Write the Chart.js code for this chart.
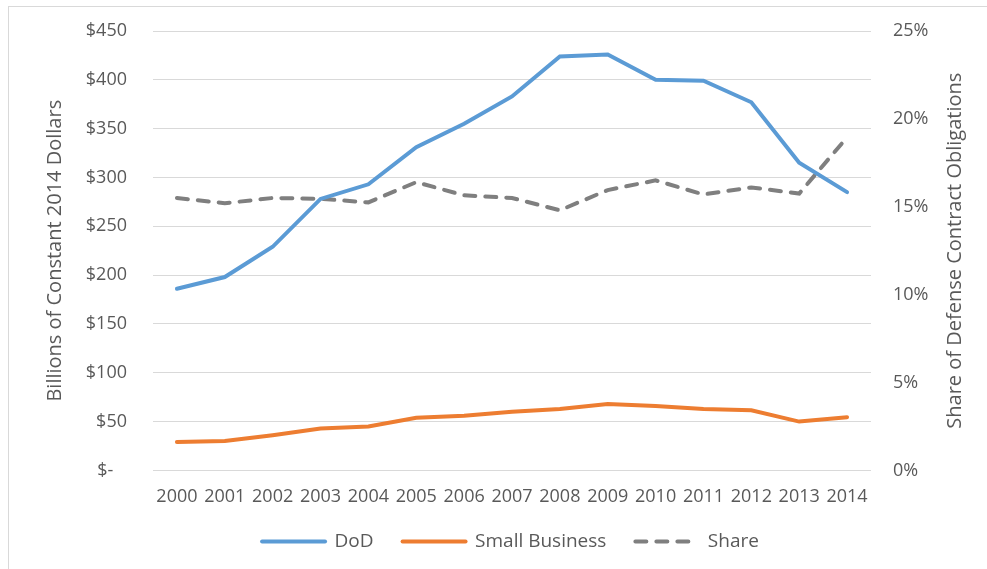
<!DOCTYPE html>
<html>
<head>
<meta charset="utf-8">
<script src="https://cdn.jsdelivr.net/npm/chart.js@4.4.1/dist/chart.umd.min.js"></script>
<style>
  html, body { margin: 0; padding: 0; background: #fff; overflow: hidden; }
  #wrap { position: relative; width: 987px; height: 569px; }
  #frame { position: absolute; left: 8px; top: 6px; width: 1000px; height: 600px; border: 1px solid #d9d9d9; }
  #chart { position: absolute; left: 0; top: 0; }
</style>
</head>
<body>
<div id="wrap">
  <div id="frame"></div>
  <canvas id="chart" width="987" height="569"></canvas>
</div>
<script>
const years = ['2000', '2001', '2002', '2003', '2004', '2005', '2006', '2007',
               '2008', '2009', '2010', '2011', '2012', '2013', '2014'];
// billions of constant 2014 dollars
const dodValues = [186, 198, 229, 278, 293, 331, 355, 383, 424, 426, 400, 399, 377, 315, 285];
const smallBizValues = [29, 30, 36, 43, 45, 54, 56, 60, 63, 68, 66, 63, 61.5, 50, 54.5];
// percent of defense contract obligations
const shareValues = [15.5, 15.2, 15.5, 15.45, 15.25, 16.4, 15.65, 15.5, 14.8, 15.95, 16.5, 15.7, 16.1, 15.75, 18.95];

const textColor = '#595959';
const gridColor = '#d9d9d9';
const tickFont = { family: 'Open Sans', size: 18 };
const titleFont = { family: 'Open Sans', size: 20 };
const legendFont = { family: 'Open Sans', size: 19 };

// right axis title reads bottom-to-top like the left one
const rightTitle = {
    id: 'rightTitle',
    afterDraw(chart) {
        const ctx = chart.ctx;
        const area = chart.chartArea;
        ctx.save();
        ctx.translate(955, (area.top + area.bottom) / 2);
        ctx.rotate(-Math.PI / 2);
        ctx.fillStyle = textColor;
        ctx.font = '20px "Open Sans"';
        ctx.textAlign = 'center';
        ctx.textBaseline = 'middle';
        ctx.fillText('Share of Defense Contract Obligations', 0, 0);
        ctx.restore();
    }
};

// tick padding shouldn't push the plot area down
function fixWidth(w) {
    return function(scale) {
        scale.width = w;
        scale.paddingTop = 0;
        scale.paddingBottom = 0;
    };
}

const ctx = document.getElementById('chart').getContext('2d');
const chart = new Chart(ctx, {
    type: 'line',
    data: {
        labels: years,
        datasets: [{
            label: 'DoD',
            data: dodValues,
            borderColor: '#5b9bd5',
            backgroundColor: '#5b9bd5',
            borderWidth: 4,
            borderCapStyle: 'round',
            yAxisID: 'y'
        }, {
            label: 'Small Business',
            data: smallBizValues,
            borderColor: '#ed7d31',
            backgroundColor: '#ed7d31',
            borderWidth: 4,
            borderCapStyle: 'round',
            yAxisID: 'y'
        }, {
            label: 'Share',
            data: shareValues,
            borderColor: '#7f7f7f',
            backgroundColor: '#7f7f7f',
            borderWidth: 4,
            borderDash: [11, 10],
            borderCapStyle: 'round',
            yAxisID: 'y1'
        }]
    },
    options: {
        responsive: false,
        animation: false,
        layout: {
            padding: { left: 34, right: 0, top: 31, bottom: 8 }
        },
        elements: {
            point: { radius: 0 },
            line: { tension: 0 }
        },
        scales: {
            x: {
                offset: true,
                afterFit(scale) { scale.height = scale.height - 13; },
                grid: { display: false },
                border: { display: false },
                ticks: { color: textColor, font: tickFont, padding: 8, maxRotation: 0, autoSkip: false }
            },
            y: {
                position: 'left',
                min: 0,
                max: 450,
                afterFit: fixWidth(119),
                grid: { color: gridColor, lineWidth: 1, drawTicks: false },
                border: { display: false },
                ticks: {
                    stepSize: 50,
                    color: textColor,
                    font: tickFont,
                    padding: 26,
                    callback: function(value) {
                        return value === 0 ? '$-\u2002 ' : '$' + value;
                    }
                },
                title: {
                    display: true,
                    text: 'Billions of Constant 2014 Dollars',
                    color: textColor,
                    font: titleFont,
                    padding: { top: 9, bottom: 0 }
                }
            },
            y1: {
                position: 'right',
                min: 0,
                max: 25,
                afterFit: fixWidth(116),
                grid: { display: false, drawTicks: false },
                border: { display: false },
                ticks: {
                    stepSize: 5,
                    color: textColor,
                    font: tickFont,
                    padding: 22,
                    callback: function(value) {
                        return value + '%';
                    }
                }
            }
        },
        plugins: {
            legend: {
                position: 'bottom',
                labels: {
                    color: textColor,
                    font: legendFont,
                    usePointStyle: true,
                    pointStyleWidth: 63,
                    pointStyle: 'line',
                    padding: 29,
                    generateLabels(chart) {
                        const items = Chart.defaults.plugins.legend.labels.generateLabels(chart);
                        items.forEach(item => {
                            const ds = chart.data.datasets[item.datasetIndex];
                            item.strokeStyle = ds.borderColor;
                            item.lineWidth = ds.borderWidth;
                            item.lineDash = ds.borderDash || [];
                            item.lineCap = 'round';
                        });
                        return items;
                    }
                }
            },
            tooltip: { enabled: false }
        }
    },
    plugins: [rightTitle]
});
</script>
</body>
</html>
